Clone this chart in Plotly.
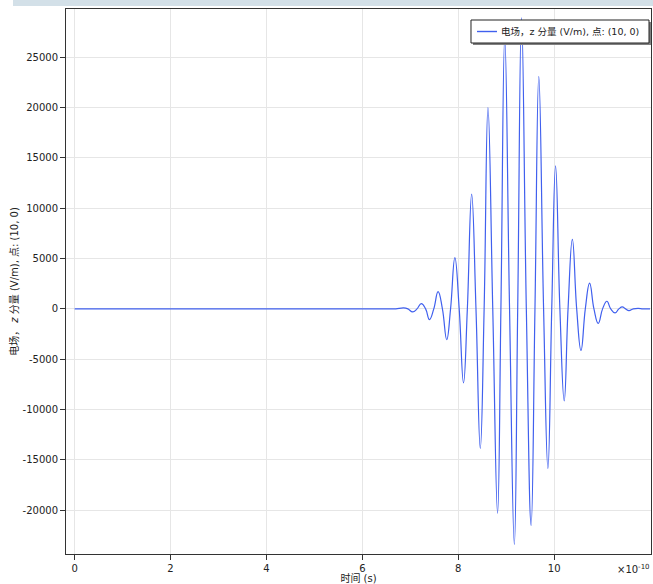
import plotly.graph_objects as go

# time in units of 1e-10 s, field in V/m (extrema and zero crossings)
t_vals = [0.0, 2.0, 4.0, 6.0, 6.5, 6.62, 6.70, 6.86, 6.95, 7.05, 7.14, 7.23, 7.32, 7.40, 7.49,
          7.58, 7.67, 7.76, 7.84, 7.93, 8.02, 8.11, 8.19, 8.28, 8.37, 8.46, 8.54, 8.62, 8.72,
          8.82, 8.89, 8.97, 9.07, 9.17, 9.24, 9.32, 9.42, 9.52, 9.60, 9.68, 9.78, 9.87, 9.95,
          10.03, 10.12, 10.21, 10.29, 10.38, 10.47, 10.56, 10.65, 10.74, 10.83, 10.92, 11.01,
          11.10, 11.18, 11.27, 11.35, 11.42, 11.49, 11.56, 11.65, 11.75, 11.85, 11.93, 12.0]
ez_vals = [0, 0, 0, 0, 0, 0, 0, 100, 0, -300, 0, 530, 0, -1060, 0,
           1720, 0, -3050, 0, 5100, 0, -7360, 0, 11400, 0, -13860, 0, 20000, 0,
           -20300, 0, 27000, 0, -23400, 0, 28900, 0, -21500, 0, 23100, 0, -15840, 0,
           14200, 0, -9140, 0, 6900, 0, -4130, 0, 2550, 0, -1440, 0,
           760, 0, -400, 0, 200, 0, -180, 0, 60, 0, 0, 0]

x_ticks = [0, 2, 4, 6, 8, 10]
x_ticktext = ["0", "2", "4", "6", "8", "10"]
y_ticks = [-20000, -15000, -10000, -5000, 0, 5000, 10000, 15000, 20000, 25000]
y_ticktext = [str(v) for v in y_ticks]

legend_name = "电场，z 分量 (V/m), 点: (10, 0)"
y_title = "电场， <i>z</i> 分量 (V/m), 点: (10, 0)"
x_title = "时间 (s)"
x_exponent = "×10<sup>-10</sup>"

FONT = "DejaVu Sans, Noto Sans CJK SC, sans-serif"
LINE_COLOR = "#4060ee"

fig = go.Figure()
fig.add_trace(go.Scatter(
    x=t_vals, y=ez_vals, mode="lines", name=legend_name,
    line=dict(color=LINE_COLOR, width=1.2, shape="spline", smoothing=1.3),
    showlegend=False,
))

fig.update_layout(
    width=653, height=584,
    margin=dict(l=66, r=2, t=9, b=30),
    paper_bgcolor="white", plot_bgcolor="white",
    font=dict(family=FONT, size=10, color="#222"),
    showlegend=False,
    xaxis=dict(range=[-0.18, 12.02], tickvals=x_ticks, ticktext=x_ticktext,
               showgrid=True, gridcolor="#e6e6e6", gridwidth=1,
               zeroline=False, showline=True, linecolor="#333", linewidth=1,
               mirror=True, ticks="outside", ticklen=5, tickcolor="#333",
               title=dict(text=x_title, font=dict(size=10), standoff=2),
               tickfont=dict(size=10)),
    yaxis=dict(range=[-24350, 29790], tickvals=y_ticks, ticktext=y_ticktext,
               showgrid=True, gridcolor="#e6e6e6", gridwidth=1,
               zeroline=False, showline=True, linecolor="#333", linewidth=1,
               mirror=True, ticks="outside", ticklen=5, tickcolor="#333",
               title=dict(text=y_title, font=dict(size=10), standoff=2),
               tickfont=dict(size=10)),
    xaxis2=dict(range=[-0.18, 12.02], overlaying="x", side="top",
                tickvals=x_ticks, showticklabels=False, ticks="inside",
                ticklen=5, tickcolor="#777", showgrid=False, zeroline=False,
                showline=False),
)

# top banner strip
fig.add_shape(type="rect", xref="paper", yref="paper",
              x0=-0.0906, x1=1.004, y0=1.0055, y1=1.02,
              fillcolor="#d3e0e8", line=dict(width=0), layer="below")

# legend box (shadow, frame, sample line, label)
fig.add_shape(type="rect", xref="paper", yref="paper",
              x0=0.6957, x1=1.0, y0=0.9339, y1=0.9761,
              fillcolor="#808080", line=dict(width=0), layer="above")
fig.add_shape(type="rect", xref="paper", yref="paper",
              x0=0.6923, x1=0.9966, y0=0.9376, y1=0.9798,
              fillcolor="white", line=dict(color="#222", width=1), layer="above")
fig.add_shape(type="line", xref="paper", yref="paper",
              x0=0.7026, x1=0.7368, y0=0.9587, y1=0.9587,
              line=dict(color=LINE_COLOR, width=1.4), layer="above")
fig.add_annotation(text=legend_name, xref="paper", yref="paper",
                   x=0.741, y=0.9587, xanchor="left", yanchor="middle",
                   showarrow=False, font=dict(size=9.5, color="#222"))

fig.add_annotation(text=x_exponent, xref="paper", yref="paper",
                   x=0.938, y=-0.012, xanchor="left", yanchor="top",
                   showarrow=False, font=dict(size=10, color="#222"))

fig.write_html("out.html")
